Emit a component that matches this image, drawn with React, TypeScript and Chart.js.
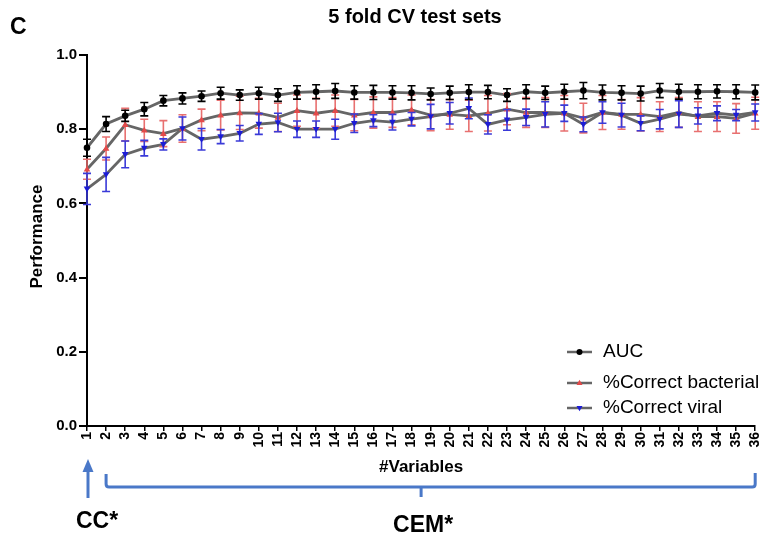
import React, { useEffect, useRef } from "react";
import { Chart, registerables } from "chart.js";

Chart.register(...registerables);

const variables = ["1","2","3","4","5","6","7","8","9","10","11","12","13","14","15","16","17","18","19","20","21","22","23","24","25","26","27","28","29","30","31","32","33","34","35","36"];

const aucValues = [0.750,0.814,0.836,0.854,0.877,0.883,0.889,0.897,0.892,0.897,0.892,0.899,0.901,0.903,0.899,0.899,0.899,0.898,0.895,0.898,0.900,0.900,0.892,0.901,0.898,0.901,0.904,0.899,0.898,0.896,0.904,0.901,0.901,0.902,0.901,0.899];
const aucErrors = [0.023,0.020,0.015,0.018,0.014,0.015,0.014,0.016,0.014,0.016,0.017,0.018,0.019,0.020,0.018,0.019,0.018,0.019,0.016,0.018,0.020,0.018,0.017,0.019,0.018,0.020,0.022,0.020,0.019,0.020,0.019,0.020,0.019,0.018,0.019,0.020];

const bacterialValues = [0.692,0.748,0.812,0.797,0.788,0.802,0.825,0.838,0.844,0.843,0.832,0.850,0.843,0.850,0.838,0.845,0.845,0.852,0.838,0.840,0.836,0.843,0.854,0.845,0.845,0.843,0.830,0.845,0.840,0.840,0.834,0.845,0.834,0.834,0.829,0.843];
const bacterialErrors = [0.027,0.031,0.044,0.030,0.035,0.037,0.029,0.040,0.045,0.040,0.038,0.042,0.040,0.042,0.042,0.042,0.040,0.040,0.042,0.040,0.042,0.048,0.042,0.040,0.040,0.048,0.040,0.046,0.040,0.045,0.040,0.040,0.040,0.040,0.040,0.043];

const viralValues = [0.639,0.678,0.732,0.749,0.759,0.802,0.773,0.780,0.789,0.814,0.818,0.800,0.800,0.800,0.816,0.823,0.819,0.827,0.834,0.843,0.856,0.813,0.825,0.832,0.840,0.843,0.813,0.845,0.838,0.816,0.827,0.841,0.836,0.843,0.838,0.845];
const viralErrors = [0.042,0.046,0.036,0.021,0.015,0.031,0.029,0.019,0.021,0.028,0.025,0.022,0.022,0.027,0.025,0.016,0.021,0.018,0.033,0.029,0.028,0.026,0.028,0.022,0.034,0.022,0.020,0.029,0.032,0.020,0.026,0.036,0.022,0.020,0.015,0.023];

const seriesNames = ["AUC", "%Correct bacterial", "%Correct viral"];

const FONT = "'Liberation Sans', Arial, sans-serif";
const LINE = "#666666";
const BLACK = "#000000";
const RED = "#e34a4a";
const RED_ERR = "#e87070";
const BLUE = "#1c1cd6";
const BLUE_ERR = "#3a3ad8";
const ANNOT = "#4a78c8";

const series = [
  { name: seriesNames[0], values: aucValues, errors: aucErrors, color: BLACK, errColor: BLACK, style: "circle", rot: 0 },
  { name: seriesNames[1], values: bacterialValues, errors: bacterialErrors, color: RED, errColor: RED_ERR, style: "triangle", rot: 0 },
  { name: seriesNames[2], values: viralValues, errors: viralErrors, color: BLUE, errColor: BLUE_ERR, style: "triangle", rot: 180 },
];

function drawMarker(ctx: CanvasRenderingContext2D, style: string, rot: number, x: number, y: number, r: number, color: string) {
  ctx.save();
  ctx.fillStyle = color;
  ctx.beginPath();
  if (style === "circle") {
    ctx.arc(x, y, r, 0, Math.PI * 2);
  } else {
    const s = rot === 180 ? -1 : 1;
    ctx.moveTo(x, y - s * r * 1.1);
    ctx.lineTo(x + r, y + s * r * 0.7);
    ctx.lineTo(x - r, y + s * r * 0.7);
    ctx.closePath();
  }
  ctx.fill();
  ctx.restore();
}

const overlay = {
  id: "overlay",
  afterDatasetsDraw(chart: any) {
    const ctx: CanvasRenderingContext2D = chart.ctx;
    const ys = chart.scales.y;
    const drawOrder = [1, 2, 0];
    drawOrder.forEach((di) => {
      const s = series[di];
      const meta = chart.getDatasetMeta(di);
      ctx.save();
      ctx.strokeStyle = s.errColor;
      ctx.lineWidth = 1.6;
      meta.data.forEach((pt: any, i: number) => {
        const x = pt.x;
        const top = ys.getPixelForValue(s.values[i] + s.errors[i]);
        const bot = ys.getPixelForValue(s.values[i] - s.errors[i]);
        ctx.beginPath();
        ctx.moveTo(x, top);
        ctx.lineTo(x, bot);
        ctx.moveTo(x - 4, top);
        ctx.lineTo(x + 4, top);
        ctx.moveTo(x - 4, bot);
        ctx.lineTo(x + 4, bot);
        ctx.stroke();
      });
      ctx.restore();
      meta.data.forEach((pt: any) => {
        drawMarker(ctx, s.style, s.rot, pt.x, pt.y, 3.3, s.color);
      });
    });
  },
  afterDraw(chart: any) {
    const ctx: CanvasRenderingContext2D = chart.ctx;
    const area = chart.chartArea;
    const xs = chart.scales.x;
    const cx = (area.left + area.right) / 2;
    ctx.save();
    ctx.fillStyle = BLACK;
    ctx.textBaseline = "middle";

    // panel letter
    ctx.font = `bold 23px ${FONT}`;
    ctx.textAlign = "left";
    ctx.fillText("C", 10, 28);

    // title
    ctx.font = `bold 20px ${FONT}`;
    ctx.textAlign = "center";
    ctx.fillText("5 fold CV test sets", 415, 17);

    // axis titles
    ctx.font = `bold 17px ${FONT}`;
    ctx.fillText("#Variables", cx, 467);
    ctx.save();
    ctx.translate(37, (area.top + area.bottom) / 2 - 4);
    ctx.rotate(-Math.PI / 2);
    ctx.fillText("Performance", 0, 0);
    ctx.restore();

    // legend
    const legendY = [352, 383, 408];
    series.forEach((s, i) => {
      const y = legendY[i];
      ctx.save();
      ctx.strokeStyle = LINE;
      ctx.lineWidth = 2.5;
      ctx.beginPath();
      ctx.moveTo(567, y);
      ctx.lineTo(592, y);
      ctx.stroke();
      ctx.restore();
      drawMarker(ctx, s.style, s.rot, 579.5, y, 3, s.color);
      ctx.fillStyle = BLACK;
      ctx.font = `19px ${FONT}`;
      ctx.textAlign = "left";
      ctx.fillText(s.name, 603, y);
    });

    // annotations: arrow for CC*, bracket for CEM*
    const x1 = xs.getPixelForValue(0);
    const x2 = xs.getPixelForValue(1);
    const x36 = xs.getPixelForValue(35);
    ctx.strokeStyle = ANNOT;
    ctx.fillStyle = ANNOT;
    ctx.lineWidth = 3;
    ctx.lineJoin = "round";
    ctx.lineCap = "butt";
    ctx.beginPath();
    ctx.moveTo(x1 + 1, 498);
    ctx.lineTo(x1 + 1, 470);
    ctx.stroke();
    ctx.beginPath();
    ctx.moveTo(x1 + 1, 459);
    ctx.lineTo(x1 + 6.5, 472);
    ctx.lineTo(x1 - 4.5, 472);
    ctx.closePath();
    ctx.fill();

    ctx.beginPath();
    ctx.moveTo(x2, 474);
    ctx.lineTo(x2, 484);
    ctx.quadraticCurveTo(x2, 487, x2 + 3, 487);
    ctx.lineTo(x36 - 3, 487);
    ctx.quadraticCurveTo(x36, 487, x36, 484);
    ctx.lineTo(x36, 473);
    ctx.stroke();
    ctx.beginPath();
    ctx.moveTo(cx, 487);
    ctx.lineTo(cx, 497);
    ctx.stroke();

    ctx.fillStyle = BLACK;
    ctx.font = `bold 23px ${FONT}`;
    ctx.textAlign = "center";
    ctx.fillText("CC*", x1 + 10, 522);
    ctx.fillText("CEM*", cx + 2, 526);
    ctx.restore();
  },
};

export default function App() {
  const canvasRef = useRef<HTMLCanvasElement | null>(null);

  useEffect(() => {
    document.body.style.margin = "0";
    const canvas = canvasRef.current;
    if (!canvas) return;
    const chart = new Chart(canvas, {
      type: "line",
      data: {
        labels: variables,
        datasets: series.map((s) => ({
          label: s.name,
          data: s.values,
          borderColor: LINE,
          borderWidth: 2.8,
          pointRadius: 0,
          pointHoverRadius: 0,
          tension: 0,
          fill: false,
          clip: false as any,
        })),
      },
      options: {
        animation: false,
        responsive: false,
        events: [],
        layout: { padding: { left: 0, right: 13, top: 55, bottom: 0 } },
        plugins: {
          legend: { display: false },
          title: { display: false },
          tooltip: { enabled: false },
        },
        scales: {
          x: {
            type: "category",
            offset: false,
            grid: { display: true, drawOnChartArea: false, drawTicks: true, tickLength: 5, color: BLACK, lineWidth: 1.5 },
            border: { display: true, color: BLACK, width: 2 },
            ticks: {
              autoSkip: false,
              maxRotation: 90,
              minRotation: 90,
              padding: 1,
              color: BLACK,
              font: { family: FONT, size: 14, weight: "bold" },
            },
            afterFit: (s: any) => {
              s.height = 112;
            },
          },
          y: {
            min: 0,
            max: 1,
            grid: { display: true, drawOnChartArea: false, drawTicks: true, tickLength: 8, color: BLACK, lineWidth: 2 },
            border: { display: true, color: BLACK, width: 2 },
            ticks: {
              stepSize: 0.2,
              padding: 2,
              color: BLACK,
              font: { family: FONT, size: 15, weight: "bold" },
              callback: (v: any) => Number(v).toFixed(1),
            },
            afterFit: (s: any) => {
              s.width = 87;
            },
          },
        },
      },
      plugins: [overlay],
    });
    return () => chart.destroy();
  }, []);

  return (
    <div style={{ width: 773, height: 538 }}>
      <canvas ref={canvasRef} width={773} height={538} style={{ display: "block" }} />
    </div>
  );
}
